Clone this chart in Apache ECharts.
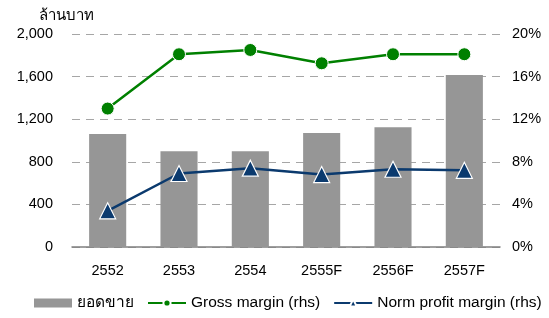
<!DOCTYPE html>
<html>
<head>
<meta charset="utf-8">
<script src="https://cdn.jsdelivr.net/npm/echarts@6/dist/echarts.min.js"></script>
<style>
  html, body { margin: 0; padding: 0; background: #fff; }
  #chart { width: 549px; height: 318px; }
</style>
</head>
<body>
<div id="chart"></div>
<script>
// Sales (million baht) on the left axis, margins (%) on the right axis.
const years = ["2552", "2553", "2554", "2555F", "2556F", "2557F"]
const sales = [1060, 900, 900, 1070, 1125, 1615]
const grossMargin = [13.0, 18.1, 18.5, 17.25, 18.1, 18.1]
const normProfitMargin = [3.4, 6.9, 7.4, 6.8, 7.3, 7.2]

const leftTicks = {min: 0, max: 2000, interval: 400}
const rightTicks = {min: 0, max: 20, interval: 4}

const FONT = "Liberation Sans, Arial, sans-serif"
const BAR = "#969696"
const GREEN = "#008000"
const NAVY = "#0B3A6E"

const chart = echarts.init(document.getElementById("chart"))

chart.setOption({
  animation: false,
  textStyle: {fontFamily: FONT, color: "#000"},
  title: {
    text: "ล้านบาท",
    left: 34,
    top: 3,
    textStyle: {fontFamily: FONT, fontSize: 15, fontWeight: "normal", color: "#000"},
  },
  grid: {left: 72, right: 49, top: 34, bottom: 71},
  legend: {
    bottom: 2,
    left: 29,
    itemGap: 13,
    itemWidth: 38,
    itemHeight: 9,
    textStyle: {fontFamily: FONT, fontSize: 15.5, color: "#000"},
    data: [
      {name: "ยอดขาย", icon: "rect"},
      {name: "Gross margin (rhs)"},
      {name: "Norm profit margin (rhs)"},
    ],
  },
  xAxis: {
    type: "category",
    data: years,
    axisTick: {show: false},
    axisLine: {lineStyle: {color: "#808080", width: 1.5}},
    axisLabel: {fontSize: 14.5, color: "#000", margin: 16},
  },
  yAxis: [
    {
      type: "value",
      ...leftTicks,
      axisLine: {show: false},
      axisTick: {show: false},
      axisLabel: {fontSize: 14.5, color: "#000", margin: 19},
      splitLine: {lineStyle: {color: "#A6A6A6", type: [8, 6], width: 1}},
    },
    {
      type: "value",
      ...rightTicks,
      axisLine: {show: false},
      axisTick: {show: false},
      axisLabel: {fontSize: 14.5, color: "#000", margin: 12, formatter: "{value}%"},
      splitLine: {show: false},
    },
  ],
  series: [
    {
      name: "ยอดขาย",
      type: "bar",
      data: sales,
      barWidth: "52%",
      itemStyle: {color: BAR},
    },
    {
      name: "Gross margin (rhs)",
      type: "line",
      yAxisIndex: 1,
      data: grossMargin,
      symbol: "circle",
      symbolSize: 13,
      lineStyle: {color: GREEN, width: 2.5},
      itemStyle: {color: GREEN, borderColor: "#fff", borderWidth: 1},
    },
    {
      name: "Norm profit margin (rhs)",
      type: "line",
      yAxisIndex: 1,
      data: normProfitMargin,
      symbol: "triangle",
      symbolSize: 16,
      lineStyle: {color: NAVY, width: 2.5},
      itemStyle: {color: NAVY, borderColor: "#fff", borderWidth: 1.2},
    },
  ],
})
</script>
</body>
</html>
